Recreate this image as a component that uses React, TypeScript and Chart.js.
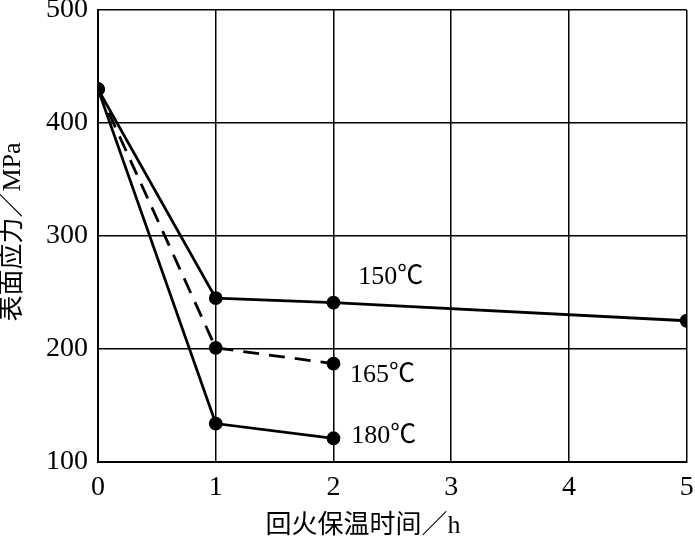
import React, { useEffect, useRef } from "react";
import { Chart, registerables } from "chart.js";

Chart.register(...registerables);

const xValues = [0, 1, 2, 5];
const series150 = [430, 245, 241, 225];
const series165 = [430, 201, 187];
const series180 = [430, 134, 121];
const seriesNames = ["150℃", "165℃", "180℃"];
const labelPos = [
  [2.21, 264],
  [2.14, 177],
  [2.15, 122.5],
];
const xTicks = [0, 1, 2, 3, 4, 5];
const yTicks = [100, 200, 300, 400, 500];
const xTitle = "回火保温时间／h";
const yTitle = "表面应力／MPa";

const SERIF = "'Liberation Serif', 'Times New Roman', 'Noto Sans CJK SC', serif";

export default function App() {
  const ref = useRef<HTMLCanvasElement | null>(null);
  useEffect(() => {
    document.body.style.margin = "0";
    const mk = (vals: number[]) => vals.map((v, i) => ({ x: xValues[i], y: v }));
    const textPlugin = {
      id: "texts",
      afterDatasetsDraw(chart: any) {
        const { ctx, scales, chartArea } = chart;
        const sx = scales.x;
        const sy = scales.y;
        ctx.save();
        ctx.fillStyle = "#000";
        // tick labels
        ctx.font = `28px ${SERIF}`;
        ctx.textAlign = "center";
        ctx.textBaseline = "middle";
        xTicks.forEach((v) => ctx.fillText(String(v), sx.getPixelForValue(v), chartArea.bottom + 26));
        ctx.textAlign = "right";
        yTicks.forEach((v) => ctx.fillText(String(v), chartArea.left - 10, sy.getPixelForValue(v)));
        // series labels
        ctx.font = `26px ${SERIF}`;
        ctx.textAlign = "left";
        seriesNames.forEach((n, i) => {
          ctx.fillText(n, sx.getPixelForValue(labelPos[i][0]), sy.getPixelForValue(labelPos[i][1]));
        });
        // axis titles
        ctx.font = `26px ${SERIF}`;
        ctx.textAlign = "center";
        ctx.fillText(xTitle, chartArea.left + 265, chartArea.bottom + 64);
        ctx.translate(13, (chartArea.top + chartArea.bottom) / 2 - 4);
        ctx.rotate(-Math.PI / 2);
        ctx.fillText(yTitle, 0, 0);
        ctx.restore();
      },
    };
    const common = {
      borderColor: "#000",
      backgroundColor: "#000",
      pointBackgroundColor: "#000",
      pointBorderColor: "#000",
      pointRadius: 5.5,
      borderWidth: 2.8,
      tension: 0,
      fill: false,
    };
    const chart = new Chart(ref.current!, {
      type: "line",
      data: {
        datasets: [
          { ...common, label: seriesNames[0], data: mk(series150) },
          { ...common, label: seriesNames[1], data: mk(series165), borderDash: [16, 10] },
          { ...common, label: seriesNames[2], data: mk(series180) },
        ],
      },
      options: {
        animation: false,
        responsive: false,
        maintainAspectRatio: false,
        layout: { padding: { top: 10, right: 7, left: 0, bottom: 0 } },
        plugins: { legend: { display: false }, tooltip: { enabled: false } },
        scales: {
          x: {
            type: "linear",
            min: 0,
            max: 5,
            afterBuildTicks: (s: any) => {
              s.ticks = xTicks.map((v) => ({ value: v }));
            },
            afterFit: (s: any) => {
              s.height = 78;
              s.paddingLeft = 0;
              s.paddingRight = 0;
            },
            grid: { color: "#000", lineWidth: 1.5, drawTicks: false },
            border: { color: "#000", width: 2 },
            ticks: { display: false },
          },
          y: {
            type: "linear",
            min: 100,
            max: 500,
            afterBuildTicks: (s: any) => {
              s.ticks = yTicks.map((v) => ({ value: v }));
            },
            afterFit: (s: any) => {
              s.width = 98;
              s.paddingTop = 0;
              s.paddingBottom = 0;
            },
            grid: { color: "#000", lineWidth: 1.5, drawTicks: false },
            border: { color: "#000", width: 2 },
            ticks: { display: false },
          },
        },
      },
      plugins: [textPlugin],
    } as any);
    return () => chart.destroy();
  }, []);
  return (
    <div style={{ position: "absolute", left: 0, top: 0, width: 695, height: 540, background: "#fff" }}>
      <canvas ref={ref} width={695} height={540} style={{ width: 695, height: 540 }} />
    </div>
  );
}
